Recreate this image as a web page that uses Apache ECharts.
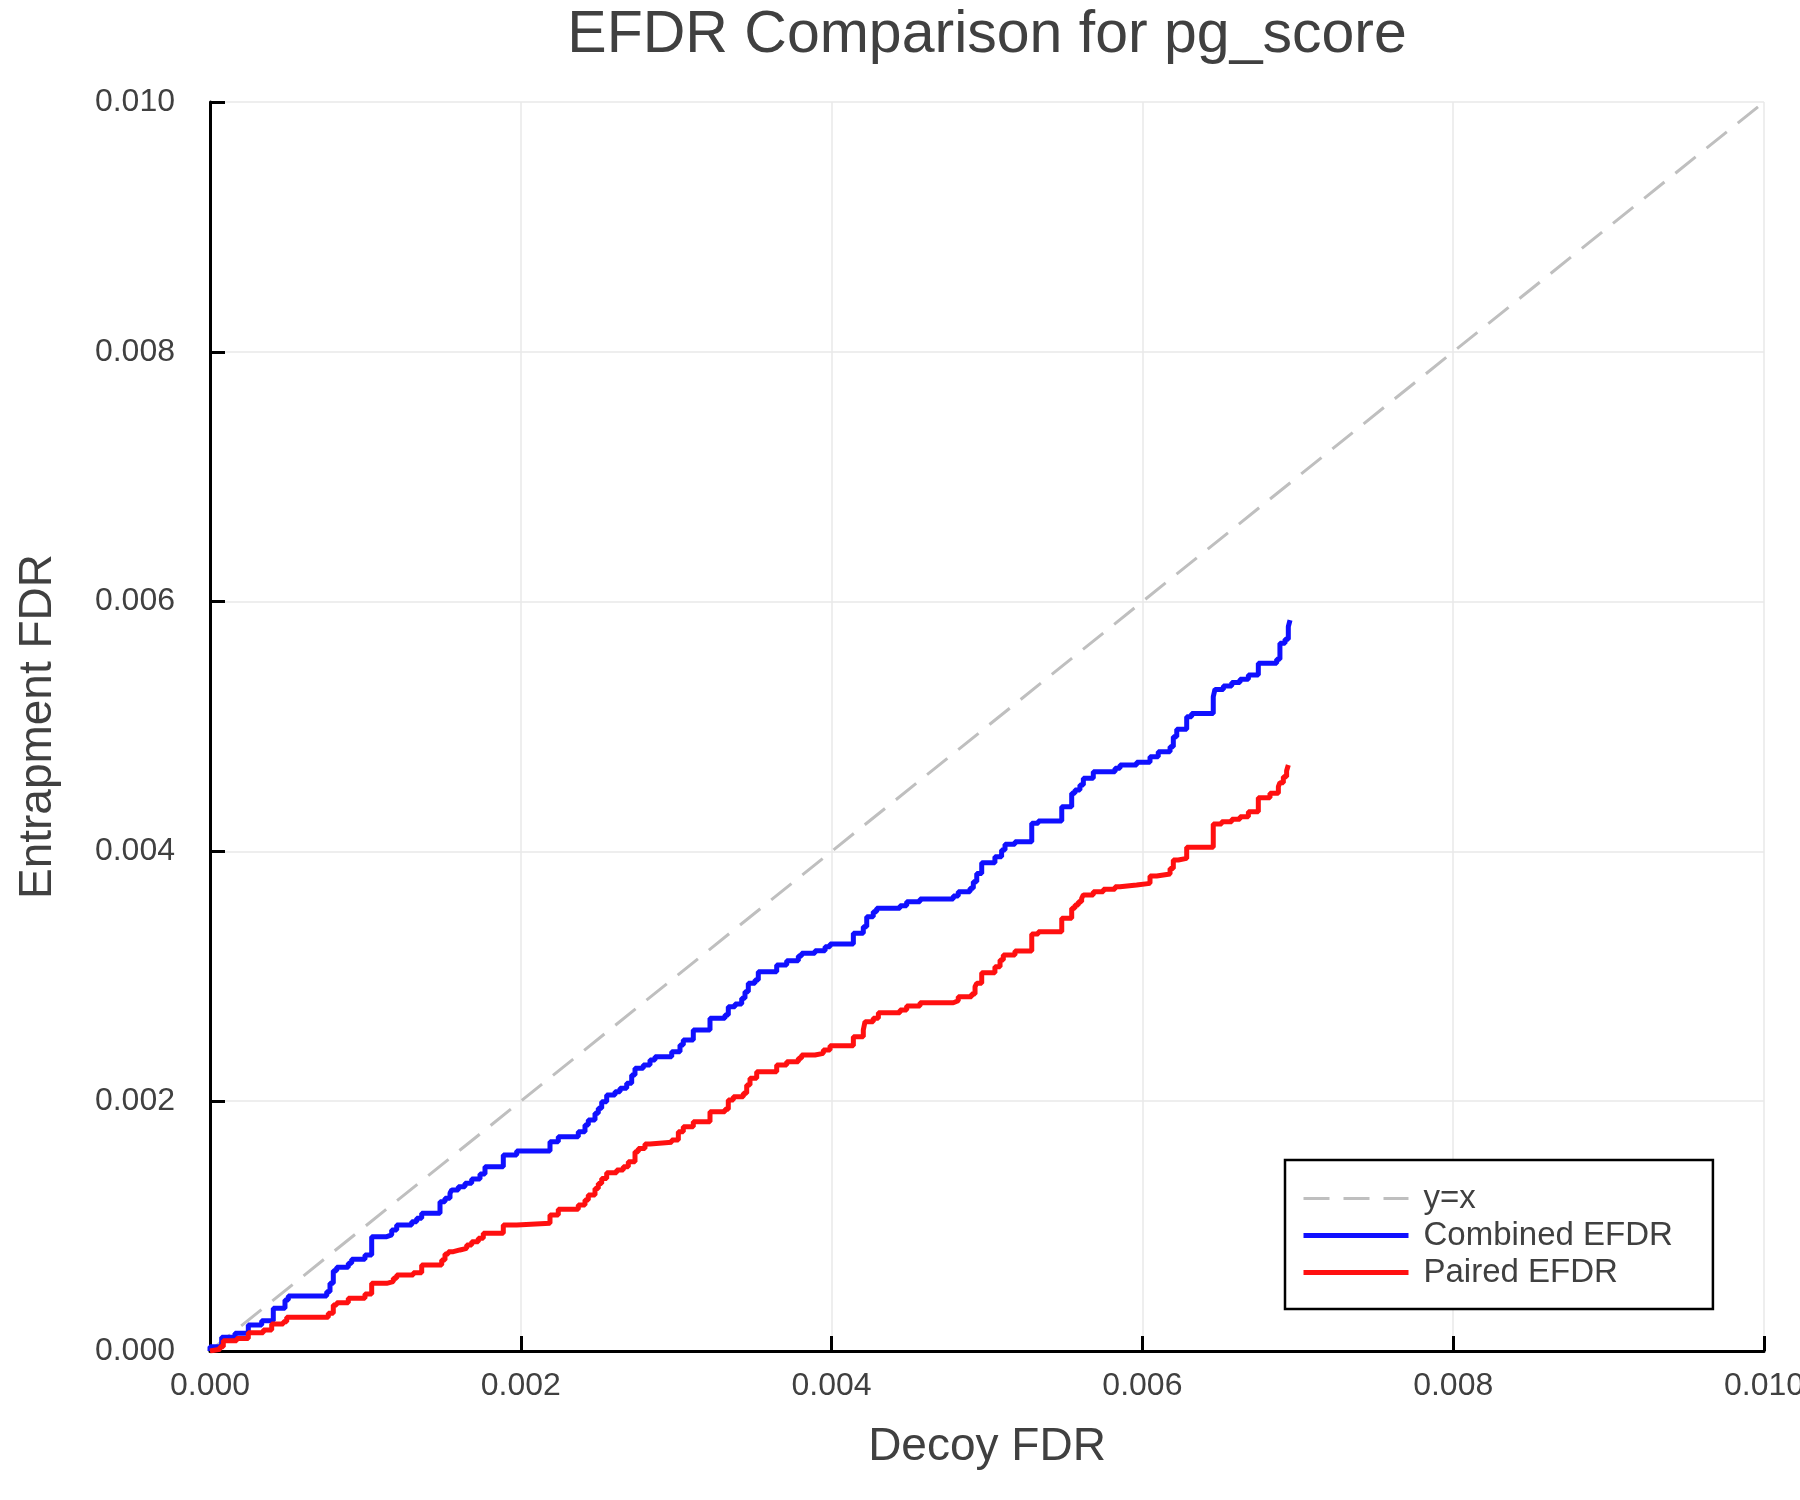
<!DOCTYPE html>
<html>
<head>
<meta charset="utf-8">
<script src="https://cdn.jsdelivr.net/npm/echarts@6/dist/echarts.min.js"></script>
<style>
html,body{margin:0;padding:0;background:#fff;}
#chart{width:1800px;height:1500px;}
</style>
</head>
<body>
<div id="chart"></div>
<script>
// ---- data ----
const chartTitle = 'EFDR Comparison for pg_score';
const xAxisName = 'Decoy FDR';
const yAxisName = 'Entrapment FDR';
const axisTicks = [0.000, 0.002, 0.004, 0.006, 0.008, 0.010];
const seriesNames = ['y=x', 'Combined EFDR', 'Paired EFDR'];

const identityX = [0, 0.01];
const identityY = [0, 0.01];

const combinedX = [
  0, 0, 0.0000753, 0.0001609, 0.0002465, 0.0003327, 0.0004073, 0.0004826, 0.0005039, 0.000751, 0.0007722, 0.0007934, 0.0008153, 0.00089, 0.0009118, 0.0009974, 0.0010405, 0.0011371, 0.0011692, 0.0012014, 0.0012979, 0.0013301, 0.0013623, 0.0014801, 0.0015122, 0.0015444, 0.0015553, 0.0015978, 0.0016409, 0.001684, 0.0017375, 0.0017696, 0.0018874,
  0.0019736, 0.0021879, 0.0022413, 0.00237, 0.0024131, 0.0024344, 0.0024775, 0.0024987, 0.0025206, 0.0025527, 0.0026062, 0.0026384, 0.0026815, 0.0027136, 0.0027349, 0.0027883, 0.0028314, 0.0028636, 0.0029711, 0.0030245, 0.0030457, 0.00311, 0.0032175, 0.003314, 0.0033353, 0.0033784, 0.0034215, 0.0034427, 0.003464, 0.0035071, 0.0035283, 0.0036467,
  0.003711, 0.003786, 0.003807, 0.003893, 0.003958, 0.00399, 0.00414, 0.004204, 0.004226, 0.004268, 0.00429, 0.00444, 0.004483, 0.004569, 0.004783, 0.004815, 0.004891, 0.004912, 0.004934, 0.004966, 0.005051, 0.005094, 0.005116, 0.00518, 0.005288, 0.00533, 0.005481,
  0.005545, 0.005566, 0.005598, 0.00562, 0.005684, 0.005824, 0.005856, 0.005963, 0.006049, 0.006102, 0.006178, 0.006199, 0.006221, 0.006285, 0.006317, 0.006456, 0.006467, 0.006521, 0.006575, 0.006628, 0.006682, 0.006746, 0.006864, 0.006885, 0.006918, 0.006939, 0.00695
];
const combinedY = [
  0, 0.000034, 0.00011, 0.000142, 0.000208, 0.000243, 0.000342, 0.000408, 0.00044, 0.000475, 0.000542, 0.000643, 0.00067, 0.000702, 0.000734, 0.000769, 0.000915, 0.000929, 0.000969, 0.001009, 0.001035, 0.001062, 0.001102, 0.001195, 0.001223, 0.001263, 0.001289, 0.001315, 0.001343, 0.001377, 0.001417, 0.001476, 0.001569,
  0.001601, 0.001676, 0.001716, 0.001756, 0.001809, 0.001849, 0.001903, 0.001943, 0.001996, 0.00205, 0.002076, 0.002103, 0.002143, 0.00221, 0.002263, 0.00229, 0.00233, 0.002356, 0.002396, 0.00245, 0.00249, 0.00257, 0.002664, 0.00269, 0.002756, 0.002778, 0.002824, 0.002877, 0.002944, 0.00297, 0.003037, 0.00309,
  0.003125, 0.003162, 0.003184, 0.003205, 0.003237, 0.003258, 0.003344, 0.003397, 0.003477, 0.003517, 0.003544, 0.003565, 0.003597, 0.003619, 0.003643, 0.003677, 0.003704, 0.003757, 0.003824, 0.003909, 0.003957, 0.004011, 0.004057, 0.004077, 0.004225, 0.004243, 0.004358,
  0.004465, 0.004491, 0.004531, 0.004585, 0.004638, 0.004665, 0.004691, 0.004713, 0.004758, 0.004798, 0.004838, 0.004918, 0.004977, 0.005078, 0.005105, 0.005238, 0.005297, 0.005324, 0.005353, 0.005378, 0.005412, 0.005506, 0.005538, 0.005666, 0.005698, 0.005799, 0.005852
];

const pairedX = [
  0, 0, 0.0000644, 0.0000856, 0.0001718, 0.0002465, 0.000343, 0.000397, 0.0004717, 0.0004936, 0.0007613, 0.0007934, 0.0008153, 0.00089, 0.0009974, 0.0010405, 0.0011371, 0.0011795, 0.0012014, 0.0013083, 0.0013623, 0.001491, 0.0015122, 0.0015335, 0.0015657, 0.0016088, 0.0016519, 0.001684, 0.0017265, 0.0017587, 0.0018874,
  0.0019736, 0.0021879, 0.0022413, 0.00237, 0.0024131, 0.0024344, 0.0024775, 0.0024987, 0.0025206, 0.0025527, 0.002617, 0.0026596, 0.0026918, 0.0027349, 0.0027562, 0.0027992, 0.0028314, 0.0029711, 0.0030138, 0.0030457, 0.00311, 0.0032175, 0.003314, 0.0033353, 0.0033676, 0.0034319, 0.0034536, 0.0034749, 0.003518, 0.0036467,
  0.003711, 0.003786, 0.003807, 0.003893, 0.003947, 0.00399, 0.00414, 0.004204, 0.004215, 0.004268, 0.004301, 0.00444, 0.004483, 0.004569, 0.004783, 0.004815, 0.004901, 0.004923, 0.004934, 0.004966, 0.005051, 0.005084, 0.005105, 0.00518, 0.005288, 0.00533, 0.005481,
  0.005545, 0.005566, 0.005588, 0.005609, 0.00562, 0.005684, 0.005749, 0.005824, 0.005856, 0.005963, 0.006049, 0.006092, 0.006178, 0.006199, 0.006231, 0.006285, 0.006456, 0.00651, 0.006575, 0.006628, 0.006682, 0.006746, 0.006821, 0.006875, 0.006885, 0.006907, 0.006928, 0.006939
];
const pairedY = [
  0, 0.000014, 0.000034, 0.000083, 0.000101, 0.000147, 0.000168, 0.000216, 0.000235, 0.00027, 0.000302, 0.000368, 0.000387, 0.000422, 0.000456, 0.000542, 0.000555, 0.000582, 0.000608, 0.000627, 0.000689, 0.000729, 0.000777, 0.000795, 0.000809, 0.000822, 0.000849, 0.000875, 0.000902, 0.000942, 0.001009,
  0.001022, 0.001089, 0.001134, 0.001169, 0.001209, 0.001249, 0.001302, 0.001342, 0.001382, 0.001428, 0.001449, 0.001476, 0.001516, 0.001596, 0.001622, 0.001657, 0.001671, 0.001689, 0.001756, 0.001796, 0.001836, 0.001916, 0.001935, 0.00201, 0.002036, 0.002063, 0.00213, 0.002183, 0.002236, 0.00229,
  0.002316, 0.002343, 0.00237, 0.002383, 0.00241, 0.002444, 0.002516, 0.00257, 0.002636, 0.002664, 0.002708, 0.00273, 0.002762, 0.002788, 0.002804, 0.002836, 0.002858, 0.002917, 0.002944, 0.003029, 0.003077, 0.00313, 0.00317, 0.003202, 0.003339, 0.003357, 0.003464,
  0.003544, 0.003571, 0.003597, 0.003624, 0.003651, 0.003677, 0.003696, 0.003717, 0.003731, 0.003744, 0.003803, 0.003819, 0.003864, 0.003931, 0.003944, 0.004033, 0.004219, 0.004238, 0.004257, 0.004278, 0.004318, 0.00443, 0.004465, 0.004518, 0.00455, 0.004598, 0.004646, 0.004691
];

// ---- chart ----
const zip = (xs, ys) => xs.map((x, i) => [x, ys[i]]);
const FONT = '"Liberation Sans", Arial, Helvetica, sans-serif';
const TEXT = '#404040';

const chart = echarts.init(document.getElementById('chart'), null, {renderer: 'canvas'});

function axisCommon(labelMargin) {
  return {
    type: 'value',
    min: axisTicks[0],
    max: axisTicks[axisTicks.length - 1],
    interval: axisTicks[1] - axisTicks[0],
    axisLine: {show: true, onZero: false, lineStyle: {color: '#000', width: 3}},
    axisTick: {show: true, inside: true, length: 15, lineStyle: {color: '#000', width: 3}},
    splitLine: {show: true, lineStyle: {color: '#e8e8e8', width: 1.5}},
    axisLabel: {
      color: TEXT, fontFamily: FONT, fontSize: 32, margin: labelMargin,
      showMinLabel: true, showMaxLabel: true, hideOverlap: false,
      formatter: v => v.toFixed(3)
    },
    nameLocation: 'middle',
    nameTextStyle: {color: TEXT, fontFamily: FONT, fontSize: 46}
  };
}

const option = {
  animation: false,
  backgroundColor: '#fff',
  title: {
    text: chartTitle,
    left: 987, top: 6, padding: 0,
    textAlign: 'center',
    textStyle: {color: TEXT, fontFamily: FONT, fontSize: 59, fontWeight: 'normal'}
  },
  grid: {left: 210, right: 36, top: 102, bottom: 149, containLabel: false, outerBoundsMode: 'none'},
  xAxis: Object.assign(axisCommon(19), {name: xAxisName, nameGap: 73}),
  yAxis: Object.assign(axisCommon(35), {name: yAxisName, nameGap: 149}),
  legend: {
    orient: 'vertical',
    left: 1285, top: 1160,
    padding: [20, 40, 18, 16],
    itemGap: 0,
    itemWidth: 105,
    itemHeight: 14,
    borderColor: '#000',
    borderWidth: 2.5,
    backgroundColor: '#fff',
    selectedMode: false,
    itemStyle: {opacity: 0},
    lineStyle: {width: 'inherit', type: 'inherit', color: 'inherit'},
    data: seriesNames,
    textStyle: {color: TEXT, fontFamily: FONT, fontSize: 33, lineHeight: 37, padding: [0, 0, 0, 10]}
  },
  series: [
    {
      name: seriesNames[0], type: 'line', data: zip(identityX, identityY),
      symbol: 'none', silent: true,
      lineStyle: {color: '#bfbfbf', width: 3, type: [26, 14]},
      itemStyle: {color: '#bfbfbf'}
    },
    {
      name: seriesNames[1], type: 'line', data: zip(combinedX, combinedY),
      symbol: 'none', step: 'end',
      lineStyle: {color: '#1010ff', width: 5}, itemStyle: {color: '#1010ff'}
    },
    {
      name: seriesNames[2], type: 'line', data: zip(pairedX, pairedY),
      symbol: 'none', step: 'end',
      lineStyle: {color: '#ff1010', width: 5}, itemStyle: {color: '#ff1010'}
    }
  ]
};
chart.setOption(option);
</script>
</body>
</html>
